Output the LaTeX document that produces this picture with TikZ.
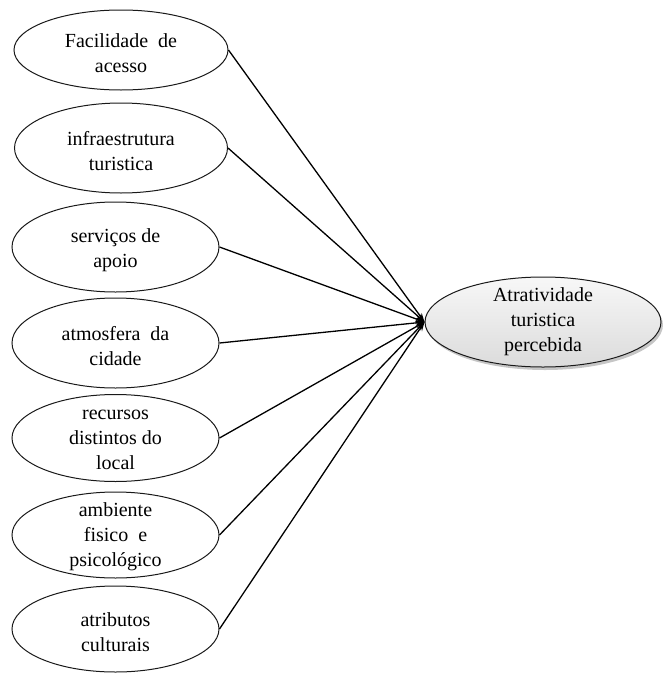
\documentclass[tikz,border=0pt]{standalone}
\usepackage{fontspec}
\setmainfont{Liberation Serif}
\usetikzlibrary{shapes.geometric,arrows.meta,shadows}
\begin{document}
\begin{tikzpicture}[x=1pt,y=-1pt,
  factor/.style={ellipse,draw=black!90,line width=1pt,inner sep=0pt},
  factortext/.style={align=center,inner sep=0pt,font=\fontsize{20}{25}\selectfont},
  outcome/.style={ellipse,draw=black!90,line width=1pt,inner sep=0pt,
    top color=gray!6,bottom color=gray!28,
    drop shadow={shadow xshift=2pt,shadow yshift=-3pt,opacity=0.45}},
  link/.style={draw=black,line width=1.3pt,-{Stealth[length=9pt,width=6pt]}}]
  \useasboundingbox (0,0) rectangle (663,673);

  % influencing factors
  \node[factor,minimum width=214pt,minimum height=80pt] (e1) at (121,50) {};
  \node[factortext] (t1) at ([yshift=-3pt]e1.center) {Facilidade\ \ de\\acesso};
  \node[factor,minimum width=213pt,minimum height=90pt] (e2) at (121,148) {};
  \node[factortext] (t2) at ([yshift=-3pt]e2.center) {infraestrutura\\turistica};
  \node[factor,minimum width=207pt,minimum height=90pt] (e3) at (115.5,247) {};
  \node[factortext] (t3) at ([yshift=-3pt]e3.center) {serviços de\\apoio};
  \node[factor,minimum width=207pt,minimum height=90pt] (e4) at (115.5,343) {};
  \node[factortext] (t4) at ([yshift=-3pt]e4.center) {atmosfera\ \ da\\cidade};
  \node[factor,minimum width=207pt,minimum height=87pt] (e5) at (115.5,438) {};
  \node[factortext] (t5) at ([yshift=-2pt]e5.center) {recursos\\distintos do\\local};
  \node[factor,minimum width=207pt,minimum height=86pt] (e6) at (115.5,535) {};
  \node[factortext] (t6) at ([yshift=-2pt]e6.center) {ambiente\\fisico\ \ e\\psicológico};
  \node[factor,minimum width=207pt,minimum height=86pt] (e7) at (115.5,629) {};
  \node[factortext] (t7) at ([yshift=-3pt]e7.center) {atributos\\culturais};

  % perceived attractiveness
  \node[outcome,minimum width=236pt,minimum height=90pt] (tgt) at (543,322) {};
  \node[factortext] (tt) at (tgt.center) {Atratividade\\turistica\\percebida};

  % paths
  \foreach \i in {1,...,7}
    \draw[link] (e\i.east) -- (tgt.west);
\end{tikzpicture}
\end{document}
